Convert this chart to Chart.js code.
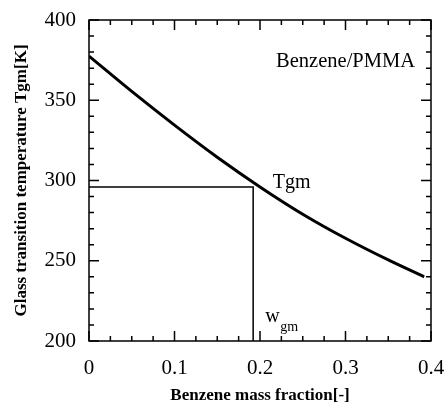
<!DOCTYPE html>
<html>
<head>
<meta charset="utf-8">
<script src="https://cdn.jsdelivr.net/npm/chart.js@4.4.1/dist/chart.umd.min.js"></script>
<style>
  html, body { margin: 0; padding: 0; background: #fff; }
  #wrap { width: 446px; height: 408px; }
</style>
</head>
<body>
<div id="wrap"><canvas id="tgChart" width="446" height="408"></canvas></div>
<script>
// Benzene/PMMA glass transition curve
const massFraction = [0, 0.05, 0.1, 0.15, 0.2, 0.25, 0.3, 0.35, 0.392];
const tgm = [377.5, 355.5, 334.5, 314.5, 296, 279, 264, 250.5, 240];

// Tgm guide lines
const wgm = 0.192;
const tgmPoint = 296;
const guideX = [0, wgm, wgm];
const guideY = [tgmPoint, tgmPoint, 200];

const xTicks = [0, 0.1, 0.2, 0.3, 0.4];
const yTicks = [200, 250, 300, 350, 400];

const serif = '"Liberation Serif", "DejaVu Serif", serif';

// inward ticks on all four sides + labels inside the plot
const framePlugin = {
  id: 'frame',
  afterDraw(chart) {
    const { ctx, chartArea: a, scales: { x, y } } = chart;
    ctx.save();
    ctx.strokeStyle = '#000';
    ctx.lineWidth = 1.5;
    ctx.strokeRect(a.left, a.top, a.right - a.left, a.bottom - a.top);

    ctx.beginPath();
    for (let v = 200; v <= 400; v += 10) {
      const py = y.getPixelForValue(v);
      const len = v % 50 === 0 ? 10 : 5;
      ctx.moveTo(a.left, py); ctx.lineTo(a.left + len, py);
      ctx.moveTo(a.right, py); ctx.lineTo(a.right - len, py);
    }
    for (let i = 0; i <= 16; i++) {
      const px = x.getPixelForValue(i * 0.025);
      const len = i % 4 === 0 ? 10 : 5;
      ctx.moveTo(px, a.bottom); ctx.lineTo(px, a.bottom - len);
      ctx.moveTo(px, a.top); ctx.lineTo(px, a.top + len);
    }
    ctx.stroke();

    ctx.fillStyle = '#000';
    ctx.textBaseline = 'alphabetic';
    ctx.font = '20.5px ' + serif;
    ctx.textAlign = 'right';
    ctx.fillText('Benzene/PMMA', a.right - 16, a.top + 47);

    ctx.textAlign = 'left';
    ctx.font = '20px ' + serif;
    ctx.fillText('Tgm', x.getPixelForValue(0.215), y.getPixelForValue(tgmPoint) + 1);

    const wx = x.getPixelForValue(wgm) + 12;
    ctx.font = '20px ' + serif;
    ctx.fillText('w', wx, a.bottom - 19);
    ctx.font = '14px ' + serif;
    ctx.fillText('gm', wx + 15, a.bottom - 10);
    ctx.restore();
  }
};

new Chart(document.getElementById('tgChart'), {
  type: 'scatter',
  data: {
    datasets: [
      {
        data: massFraction.map((v, i) => ({ x: v, y: tgm[i] })),
        showLine: true,
        borderColor: '#000',
        borderWidth: 3,
        pointRadius: 0,
        cubicInterpolationMode: 'monotone'
      },
      {
        data: guideX.map((v, i) => ({ x: v, y: guideY[i] })),
        showLine: true,
        borderColor: '#000',
        borderWidth: 1.5,
        pointRadius: 0,
        tension: 0
      }
    ]
  },
  plugins: [framePlugin],
  options: {
    responsive: false,
    animation: false,
    layout: { padding: { left: 0, right: 15, top: 20, bottom: 0 } },
    plugins: {
      legend: { display: false },
      tooltip: { enabled: false }
    },
    scales: {
      x: {
        type: 'linear',
        min: 0,
        max: 0.4,
        afterBuildTicks: s => { s.ticks = xTicks.map(v => ({ value: v })); },
        afterFit: s => { s.height = 67; s.paddingLeft = 0; s.paddingRight = 0; },
        grid: { display: false, drawTicks: false },
        border: { display: false },
        ticks: {
          color: '#000',
          padding: 15,
          font: { family: serif, size: 21 },
          callback: v => (v === 0 ? '0' : v.toFixed(1))
        },
        title: {
          display: true,
          text: 'Benzene mass fraction[-]',
          color: '#000',
          font: { family: serif, size: 17, weight: 'bold' },
          padding: { top: 4, bottom: 2 }
        }
      },
      y: {
        type: 'linear',
        min: 200,
        max: 400,
        afterBuildTicks: s => { s.ticks = yTicks.map(v => ({ value: v })); },
        afterFit: s => { s.width = 89; s.paddingTop = 0; s.paddingBottom = 0; },
        grid: { display: false, drawTicks: false },
        border: { display: false },
        ticks: {
          color: '#000',
          padding: 13,
          font: { family: serif, size: 21 }
        },
        title: {
          display: true,
          text: 'Glass transition temperature Tgm[K]',
          color: '#000',
          font: { family: serif, size: 17, weight: 'bold' },
          padding: { top: 11, bottom: 0 }
        }
      }
    }
  }
});
</script>
</body>
</html>
